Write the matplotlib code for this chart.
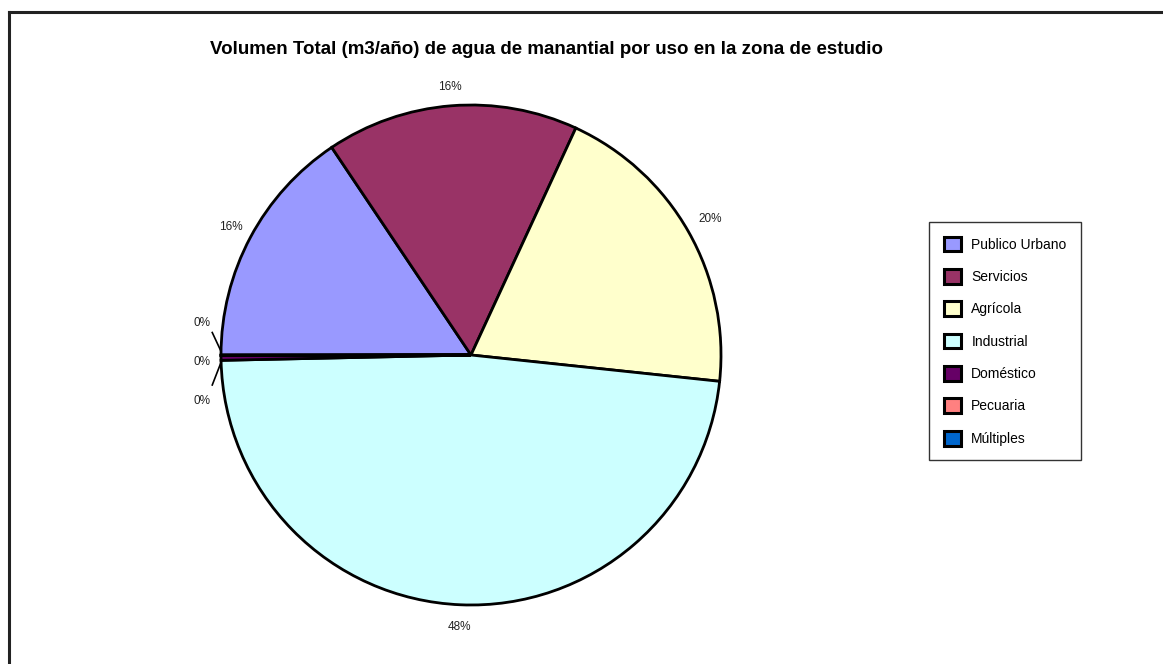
import matplotlib
matplotlib.use("Agg")
import matplotlib.pyplot as plt
from matplotlib.lines import Line2D
import numpy as np

# Share of spring-water volume by use (percent)
categories = ["Publico Urbano", "Servicios", "Agrícola", "Industrial",
              "Doméstico", "Pecuaria", "Múltiples"]
shares = [15.6, 16.3, 19.8, 48.0, 0.3, 0.02, 0.02]
colors = ["#9999FF", "#993366", "#FFFFCC", "#CCFFFF",
          "#660066", "#FF8080", "#0066CC"]
title = "Volumen Total (m3/año) de agua de manantial por uso en la zona de estudio"

W, H = 1163, 664
fig = plt.figure(figsize=(W / 100, H / 100), dpi=100)
plt.rcParams["font.family"] = ["Liberation Sans", "DejaVu Sans"]

# outer frame (top and left edges visible)
fig.add_artist(Line2D([8.5 / W, 1], [1 - 11.5 / H] * 2, color="#222222", lw=2.2))
fig.add_artist(Line2D([8.5 / W] * 2, [0, 1 - 11.5 / H], color="#222222", lw=2.2))

# pie axes: centre (471, 355) px, radius 250 px
cx, cy, r = 471, 355, 250
ax = fig.add_axes([(cx - r) / W, (H - cy - r) / H, 2 * r / W, 2 * r / H])
wedges, _ = ax.pie(shares, colors=colors, startangle=180, counterclock=False,
                   wedgeprops=dict(edgecolor="black", linewidth=2),
                   radius=1)
ax.set_xlim(-1, 1)
ax.set_ylim(-1, 1)
ax.set_aspect("auto")
ax.axis("off")

total = sum(shares)
label_dist = [1.09, 1.075, 1.1, 1.09]
for i in range(4):
    w = wedges[i]
    label = f"{round(shares[i] / total * 100):.0f}%"
    ang = np.deg2rad((w.theta1 + w.theta2) / 2)
    d = label_dist[i]
    ax.text(d * np.cos(ang), d * np.sin(ang), label,
            ha="center", va="center", fontsize=8.5, color="#222222")

# labels for the three thin slices, fanned out with leader lines
small_pos = [(-1.075, 0.128), (-1.075, -0.028), (-1.075, -0.184)]
for i, (tx, ty) in zip([4, 5, 6], small_pos):
    label = f"{round(shares[i] / total * 100):.0f}%"
    ax.text(tx, ty, label, ha="center", va="center", fontsize=8.5, color="#222222")
ax.plot([-1.035, -1.0], [0.09, 0.015], color="black", lw=1.2, clip_on=False)
ax.plot([-1.0, -1.035], [-0.03, -0.12], color="black", lw=1.2, clip_on=False)

fig.text(547 / W, 1 - 49 / H, title, ha="center", va="center",
         fontsize=13.5, fontweight="bold", color="black")

leg = fig.legend(wedges, categories, loc="upper left",
                 bbox_to_anchor=(929 / W, 1 - 222 / H),
                 frameon=True, fancybox=False, edgecolor="black",
                 fontsize=10, handlelength=1.25, handleheight=1.25,
                 labelspacing=1.25, handletextpad=0.75, borderpad=1.05,
                 borderaxespad=0)
leg.get_frame().set_linewidth(1.0)
for h in leg.legend_handles:
    h.set_linewidth(2.2)

fig.savefig("out.png", dpi=100)
